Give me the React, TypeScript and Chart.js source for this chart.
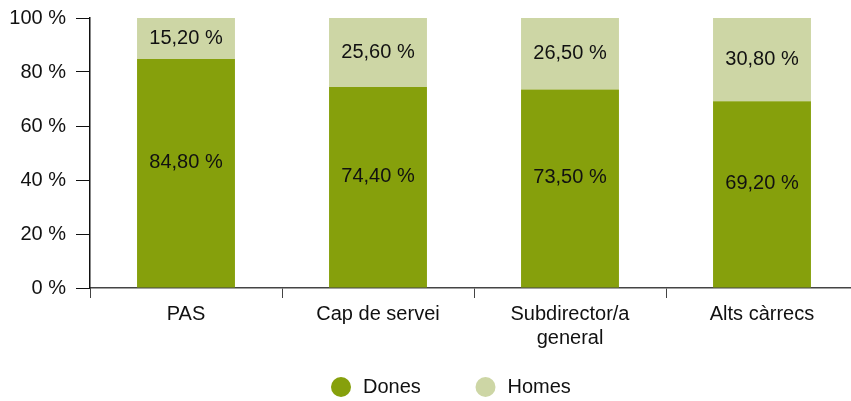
import React, { useEffect, useRef } from "react";
import { Chart, registerables } from "chart.js";

Chart.register(...registerables);

const categories: (string | string[])[] = ["PAS", "Cap de servei", ["Subdirector/a", "general"], "Alts càrrecs"];
const dones = [84.8, 74.4, 73.5, 69.2];
const homes = [15.2, 25.6, 26.5, 30.8];
const yTicks = [0, 20, 40, 60, 80, 100];

const DARK = "#86A00C";
const LIGHT = "#CDD6A5";
const FONT = "'Liberation Sans', Arial, Helvetica, sans-serif";

const fmt = (v: number) => v.toFixed(2).replace(".", ",") + " %";

const labelPlugin = {
  id: "barLabels",
  afterDatasetsDraw(chart: any) {
    const ctx = chart.ctx;
    ctx.save();
    ctx.font = `20px ${FONT}`;
    ctx.fillStyle = "#111";
    ctx.textAlign = "center";
    ctx.textBaseline = "middle";
    chart.data.datasets.forEach((ds: any, di: number) => {
      const meta = chart.getDatasetMeta(di);
      meta.data.forEach((bar: any, i: number) => {
        const top = Math.min(bar.y, bar.base);
        const bot = Math.max(bar.y, bar.base);
        const yc = (top + bot) / 2 + (di === 0 ? -11 : 0);
        ctx.fillText(fmt(ds.data[i]), bar.x, yc);
      });
    });
    ctx.restore();
  },
};

const legendPlugin = {
  id: "customLegend",
  afterDraw(chart: any) {
    const ctx = chart.ctx;
    ctx.save();
    ctx.font = `20px ${FONT}`;
    ctx.textBaseline = "middle";
    ctx.textAlign = "left";
    const y = 387;
    const starts = [341, 485.5];
    chart.data.datasets.forEach((ds: any, i: number) => {
      const cx = starts[i];
      ctx.beginPath();
      ctx.fillStyle = ds.backgroundColor;
      ctx.arc(cx, y, 10, 0, Math.PI * 2);
      ctx.fill();
      ctx.fillStyle = "#111";
      ctx.fillText(ds.label, cx + 22, y);
    });
    ctx.restore();
  },
};

export default function App() {
  const ref = useRef<HTMLCanvasElement>(null);
  useEffect(() => {
    if (!ref.current) return;
    const chart = new Chart(ref.current, {
      type: "bar",
      data: {
        labels: categories,
        datasets: [
          { label: "Dones", data: dones, backgroundColor: DARK, barPercentage: 0.51, categoryPercentage: 1 },
          { label: "Homes", data: homes, backgroundColor: LIGHT, barPercentage: 0.51, categoryPercentage: 1 },
        ],
      },
      options: {
        responsive: false,
        animation: false,
        maintainAspectRatio: false,
        layout: { padding: { left: 8, top: 18, right: 0, bottom: 47 } },
        plugins: { legend: { display: false }, tooltip: { enabled: false } },
        scales: {
          x: {
            stacked: true,
            grid: { drawOnChartArea: false, drawTicks: true, tickLength: 10, color: "#444", offset: true },
            border: { display: true, color: "#444", width: 1.5 },
            ticks: { font: { size: 20, family: FONT }, color: "#111", padding: 4, maxRotation: 0 },
          },
          y: {
            stacked: true,
            min: 0,
            max: 100,
            afterBuildTicks: (axis: any) => {
              axis.ticks = yTicks.map((v) => ({ value: v }));
            },
            afterFit: (axis: any) => {
              axis.width = 82;
              axis.paddingTop = 0;
            },
            grid: { drawOnChartArea: false, drawTicks: true, tickLength: 14, color: "#111" },
            border: { display: true, color: "#111", width: 1.5 },
            ticks: { font: { size: 20, family: FONT }, color: "#111", padding: 10, callback: (v: any) => v + " %" },
          },
        },
      },
      plugins: [labelPlugin, legendPlugin],
    });
    return () => chart.destroy();
  }, []);
  return (
    <div style={{ position: "fixed", left: 0, top: 0, width: 851, height: 401, overflow: "hidden", background: "#fff" }}>
      <canvas ref={ref} width={858} height={401} style={{ width: 858, height: 401, display: "block" }} />
    </div>
  );
}
